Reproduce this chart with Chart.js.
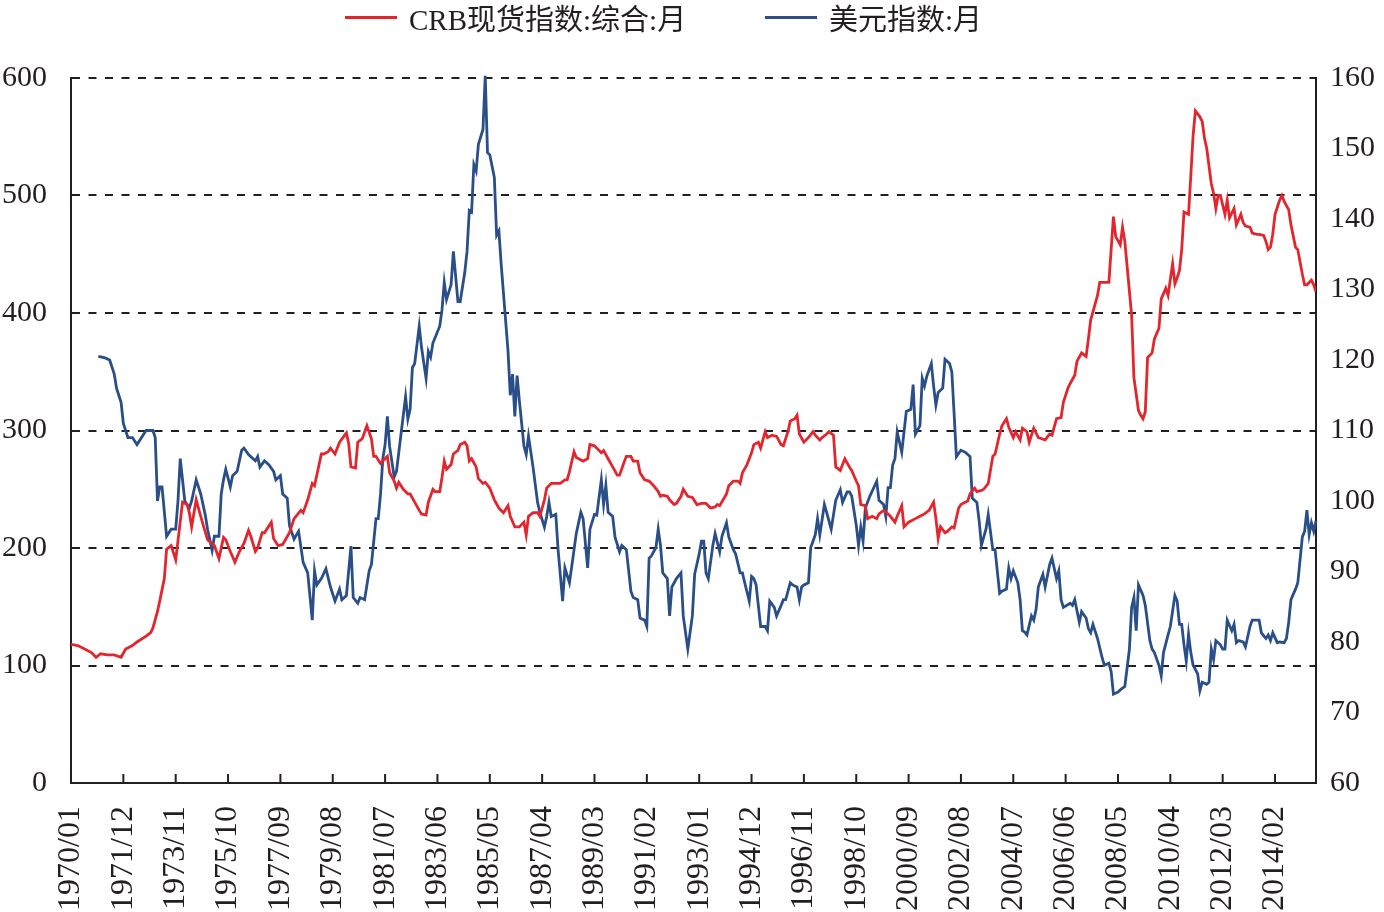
<!DOCTYPE html>
<html>
<head>
<meta charset="utf-8">
<script src="https://cdn.jsdelivr.net/npm/chart.js@4.4.1/dist/chart.umd.min.js"></script>
<style>
  html, body { margin: 0; padding: 0; background: #fff; }
  #wrap { position: relative; width: 1384px; height: 912px; overflow: hidden; }
  #legend { position: absolute; left: 0; top: 0; width: 1384px; height: 34px;
            font: 29px 'Liberation Serif', 'Noto Sans CJK SC', serif; color: #231f20; }
  #legend .item { position: absolute; top: 0; height: 34px; display: flex; align-items: center; white-space: nowrap; }
  #legend .swatch { width: 52px; height: 3px; margin-right: 12px; }
</style>
</head>
<body>
<div id="wrap">
  <div id="legend"></div>
  <canvas id="chart" width="1384" height="912"></canvas>
</div>
<script>
// x axis: months counted from 1970/01, a label every 23 months
const monthsPerTick = 23;
const lastMonth = 547;
const xTickLabels = ['1970/01', '1971/12', '1973/11', '1975/10', '1977/09', '1979/08', '1981/07', '1983/06',
    '1985/05', '1987/04', '1989/03', '1991/02', '1993/01', '1994/12', '1996/11', '1998/10',
    '2000/09', '2002/08', '2004/07', '2006/06', '2008/05', '2010/04', '2012/03', '2014/02'];

const seriesNames = ['CRB现货指数:综合:月', '美元指数:月'];

// CRB spot index (left axis)
const crbMonth = [
    0, 3, 6, 9, 11, 13, 16, 19, 22, 24,
    27, 29, 33, 35, 36, 38, 39, 41, 42, 44,
    46, 47, 49, 51, 52, 53, 55, 56, 58, 60,
    63, 65, 67, 68, 70, 72, 74, 76, 78, 79,
    81, 82, 84, 85, 88, 89, 91, 93, 96, 98,
    101, 102, 104, 106, 107, 110, 111, 113, 114, 116,
    118, 121, 122, 123, 125, 126, 128, 130, 132, 133,
    134, 136, 137, 139, 140, 142, 143, 144, 146, 148,
    149, 151, 153, 154, 156, 157, 159, 160, 162, 163,
    164, 165, 167, 168, 170, 171, 173, 174, 175, 176,
    178, 179, 181, 182, 184, 186, 188, 190, 192, 193,
    195, 197, 199, 200, 201, 203, 205, 206, 208, 209,
    211, 213, 215, 217, 218, 219, 221, 222, 225, 227,
    228, 230, 231, 233, 234, 236, 238, 240, 241, 243,
    244, 246, 247, 249, 250, 252, 254, 256, 258, 259,
    260, 262, 263, 265, 266, 268, 269, 271, 273, 275,
    277, 279, 280, 281, 283, 284, 285, 288, 289, 291,
    293, 294, 295, 297, 299, 300, 302, 303, 304, 305,
    306, 308, 310, 312, 313, 315, 316, 318, 319, 320,
    322, 324, 326, 327, 329, 330, 332, 333, 335, 336,
    338, 339, 340, 342, 343, 345, 346, 347, 349, 350,
    352, 354, 355, 357, 359, 360, 362, 363, 365, 366,
    368, 369, 371, 373, 375, 377, 379, 380, 381, 382,
    384, 385, 387, 388, 390, 391, 392, 394, 395, 397,
    398, 400, 401, 403, 405, 406, 408, 409, 411, 412,
    414, 415, 417, 418, 420, 421, 423, 425, 428, 430,
    431, 433, 435, 436, 438, 439, 441, 442, 444, 446,
    447, 448, 450, 451, 452, 454, 456, 458, 459, 461,
    462, 463, 464, 466, 467, 469, 470, 471, 472, 473,
    475, 476, 478, 479, 481, 482, 484, 485, 486, 487,
    488, 489, 491, 492, 493, 494, 496, 497, 498, 499,
    501, 502, 503, 504, 505, 507, 508, 509, 511, 512,
    514, 515, 516, 518, 519, 521, 522, 524, 525, 526,
    527, 528, 529, 531, 532, 533, 535, 536, 538, 539,
    541, 542, 543, 545, 546, 547];
const crbValue = [
    118, 117, 114, 111, 107, 110, 109, 109, 107, 114,
    117, 120, 125, 128, 132, 146, 155, 174, 199, 202,
    190, 206, 239, 237, 230, 218, 241, 234, 220, 207,
    202, 191, 209, 207, 197, 188, 197, 204, 215, 210,
    197, 200, 213, 213, 222, 208, 202, 203, 213, 225,
    232, 230, 241, 255, 253, 280, 280, 282, 285, 280,
    290, 298, 289, 269, 268, 290, 293, 304, 293, 278,
    278, 272, 274, 278, 264, 257, 251, 256, 250, 246,
    246, 239, 232, 229, 228, 239, 250, 248, 248, 260,
    274, 267, 271, 280, 283, 288, 290, 287, 274, 276,
    269, 259, 255, 256, 251, 241, 234, 230, 236, 227,
    218, 218, 222, 211, 227, 230, 230, 227, 241, 251,
    255, 255, 255, 258, 258, 265, 282, 277, 274, 276,
    288, 287, 285, 281, 283, 276, 269, 262, 262, 273,
    278, 278, 274, 274, 264, 258, 257, 253, 248, 244,
    245, 244, 241, 237, 238, 244, 250, 244, 243, 237,
    238, 238, 236, 234, 235, 237, 236, 246, 253, 257,
    257, 255, 264, 271, 281, 288, 290, 285, 292, 299,
    294, 296, 295, 288, 287, 299, 308, 310, 313, 297,
    290, 294, 299, 296, 292, 294, 297, 299, 296, 269,
    266, 271, 276, 269, 266, 257, 253, 237, 236, 225,
    227, 225, 229, 232, 229, 227, 222, 227, 236, 218,
    222, 223, 225, 227, 229, 232, 239, 225, 208, 218,
    213, 214, 218, 217, 234, 237, 238, 240, 246, 251,
    248, 249, 250, 255, 278, 280, 297, 304, 310, 303,
    294, 299, 292, 302, 299, 290, 302, 294, 292, 297,
    296, 310, 311, 324, 336, 340, 347, 359, 366, 363,
    378, 394, 408, 415, 426, 426, 426, 482, 465, 458,
    473, 461, 440, 398, 345, 317, 313, 310, 316, 362,
    366, 378, 387, 412, 421, 415, 442, 425, 430, 436,
    454, 486, 484, 517, 551, 572, 567, 563, 549, 540,
    510, 502, 489, 500, 500, 484, 496, 481, 489, 475,
    484, 477, 474, 473, 468, 467, 467, 466, 461, 454,
    456, 467, 484, 496, 500, 495, 488, 475, 456, 454,
    433, 424, 424, 428, 424, 418];

// US dollar index (right axis)
const usdMonth = [
    12, 15, 17, 19, 20, 21, 22, 23, 25, 27,
    29, 31, 33, 36, 37, 38, 39, 40, 42, 44,
    46, 47, 48, 50, 52, 53, 55, 57, 59, 60,
    62, 63, 65, 66, 67, 68, 70, 71, 73, 75,
    76, 78, 81, 82, 83, 85, 87, 89, 90, 92,
    93, 95, 96, 98, 100, 102, 104, 106, 107, 108,
    110, 112, 114, 116, 118, 119, 121, 123, 124, 126,
    127, 129, 131, 132, 134, 135, 136, 137, 138, 139,
    140, 142, 143, 145, 147, 148, 149, 150, 151, 153,
    154, 156, 157, 158, 159, 162, 163, 164, 165, 167,
    168, 170, 171, 173, 174, 175, 176, 177, 178, 179,
    181, 182, 183, 184, 186, 187, 188, 189, 191, 192,
    193, 194, 195, 196, 197, 199, 200, 201, 203, 205,
    206, 208, 209, 210, 211, 213, 214, 216, 217, 219,
    220, 222, 223, 224, 225, 227, 228, 230, 231, 233,
    234, 235, 236, 238, 239, 241, 242, 244, 246, 247,
    249, 250, 252, 253, 254, 255, 257, 258, 259, 260,
    262, 263, 264, 266, 268, 269, 271, 273, 274, 276,
    277, 278, 279, 280, 282, 283, 285, 286, 288, 289,
    291, 292, 294, 295, 296, 298, 299, 300, 301, 303,
    305, 306, 307, 309, 310, 312, 313, 314, 316, 317,
    319, 320, 321, 322, 324, 325, 326, 327, 328, 329,
    331, 332, 334, 336, 338, 339, 341, 342, 343, 345,
    346, 347, 348, 349, 351, 354, 355, 357, 358, 359,
    360, 361, 362, 363, 365, 366, 367, 369, 370, 371,
    373, 374, 375, 376, 378, 379, 380, 381, 383, 384,
    386, 387, 388, 389, 391, 393, 395, 396, 398, 399,
    400, 402, 403, 405, 406, 408, 409, 411, 412, 413,
    414, 416, 417, 418, 419, 420, 422, 423, 424, 425,
    427, 428, 430, 431, 433, 434, 435, 436, 439, 440,
    441, 443, 444, 446, 447, 448, 449, 451, 453, 454,
    456, 457, 458, 460, 461, 463, 465, 466, 467, 468,
    469, 471, 472, 474, 475, 476, 478, 479, 480, 482,
    483, 485, 486, 487, 488, 489, 490, 491, 492, 493,
    495, 496, 497, 499, 500, 501, 502, 503, 505, 506,
    507, 508, 510, 511, 512, 513, 515, 516, 518, 519,
    521, 522, 523, 525, 526, 527, 528, 530, 531, 533,
    534, 535, 536, 538, 539, 541, 542, 543, 544, 545,
    546, 547];
const usdValue = [
    120.5, 120.3, 120, 118, 116, 115, 114, 111, 109, 109,
    108, 109, 110, 110, 109, 100, 102, 102, 95, 96,
    96, 100, 106, 100, 99, 100, 103, 101, 98, 96,
    93, 95, 95, 101, 103, 104.5, 102, 103.6, 104.2, 107.2,
    107.5, 106.6, 105.7, 106.3, 104.8, 105.7, 105.1, 104.2, 103, 103.6,
    101, 100.4, 96.5, 94.6, 95.7, 91.3, 89.8, 83.1, 90.1, 88.1,
    89, 90.4, 87.8, 85.8, 87.5, 86, 86.6, 93.6, 86.3, 85.5,
    86.3, 86, 90.1, 91, 97.5, 97.5, 101, 106, 108, 112,
    107.7, 103.4, 104.2, 109.5, 114.8, 111.6, 113, 118.9, 119.5, 124.8,
    121.8, 117.4, 121.2, 120.4, 122.4, 124.8, 127.1, 131, 128.6, 130.7,
    135.4, 128.3, 128.3, 132.4, 135.4, 141.2, 141, 147.7, 146.8, 150.6,
    152.7, 160.3, 149.4, 149.1, 145.9, 137.7, 138.3, 133.6, 125.4, 121.3,
    115, 118, 112, 117.8, 114.2, 107.8, 106.6, 109.2, 104.8, 99.8,
    98.4, 96.3, 97.8, 99.8, 97.8, 98.1, 93.1, 85.8, 90.5, 88.4,
    90.7, 95.4, 96.9, 98.4, 97.5, 90.5, 96, 98.1, 98, 103,
    99.5, 102.2, 98.4, 97.8, 94.9, 92.8, 93.7, 93.1, 87.2, 86.3,
    86, 83.4, 83.1, 82.2, 91.9, 92.2, 93.4, 96, 93.7, 89.8,
    89, 83.7, 87.8, 89, 89.8, 83.7, 79, 83.7, 89.6, 92.5,
    94.3, 94.3, 89.8, 89, 93.7, 95.4, 92.8, 95, 96.9, 94.9,
    93.1, 92.5, 89.8, 89.8, 88.4, 85.8, 89.3, 89, 88.1, 82.2,
    82.2, 81.6, 85.8, 84.9, 83.7, 85.2, 86, 86, 88.4, 88.1,
    87.8, 86, 87.8, 88.1, 88.4, 93.4, 94.3, 95.2, 97.5, 95.2,
    99.5, 98.4, 96, 100.1, 101.6, 99.8, 101.3, 101.3, 100.7, 96.6,
    93.7, 96.3, 94.3, 99, 100.7, 102.8, 100.1, 99.5, 97.8, 101.9,
    101.9, 105.1, 106, 109.8, 106.9, 109.8, 112.7, 113, 116.5, 109.5,
    110.7, 117.4, 116.3, 117.7, 119.5, 116.3, 113.6, 115.4, 116, 120.1,
    119.5, 118.3, 112.4, 106.3, 107.2, 106.9, 106.3, 100.4, 99.8, 97.2,
    93.7, 96, 98.1, 93.1, 93.1, 86.9, 87.2, 87.5, 90.5, 89,
    90.1, 88.4, 86, 81.6, 81.4, 81, 83.7, 83.1, 84.6, 87.8,
    89.6, 87.8, 91, 91.9, 89, 90.1, 86, 84.9, 85.5, 85.2,
    86, 82.8, 84.3, 83.4, 81.9, 81.3, 82.5, 80.5, 77.8, 76.7,
    77, 75.8, 72.6, 72.9, 73.2, 73.7, 78.9, 84.9, 86.3, 81.6,
    88.1, 86.6, 85.2, 80.2, 79, 78.5, 76.7, 75.2, 78.5, 81,
    82.2, 86.6, 85.8, 82.5, 82.5, 79.6, 77.3, 81.1, 78.5, 76.7,
    75.5, 73.1, 74.3, 74, 74.3, 79, 77.5, 80.2, 79.6, 79,
    79, 83.1, 81.6, 82.5, 79.9, 80.2, 80, 79.3, 82.2, 83.1,
    83.1, 83.1, 81.3, 80.5, 81, 80.2, 81.3, 79.9, 80, 79.9,
    80.5, 82.8, 86, 87.5, 88.4, 94.9, 95.7, 98.7, 95.2, 96.9,
    95.7, 97.2];

const red = '#e3262d';
const blue = '#2a4f88';
const ink = '#231f20';
const serif = "'Liberation Serif', 'Times New Roman', serif";

function toPoints(months, values) {
    return months.map((m, i) => ({ x: m, y: values[i] }));
}

// tick marks on the x axis point up into the plot
const innerTicks = {
    id: 'innerTicks',
    afterDatasetsDraw(chart) {
        const xs = chart.scales.x;
        const ctx = chart.ctx;
        const bottom = chart.chartArea.bottom;
        ctx.save();
        ctx.strokeStyle = ink;
        ctx.lineWidth = 2;
        xs.ticks.forEach(t => {
            const px = xs.getPixelForValue(t.value);
            ctx.beginPath();
            ctx.moveTo(px, bottom);
            ctx.lineTo(px, bottom - 9);
            ctx.stroke();
        });
        ctx.restore();
    }
};

// html legend built from the datasets
const htmlLegend = {
    id: 'htmlLegend',
    afterUpdate(chart) {
        const box = document.getElementById('legend');
        box.innerHTML = '';
        const lefts = [345, 765];
        chart.data.datasets.forEach((ds, i) => {
            const item = document.createElement('div');
            item.className = 'item';
            item.style.left = lefts[i] + 'px';
            const sw = document.createElement('span');
            sw.className = 'swatch';
            sw.style.background = ds.borderColor;
            const txt = document.createElement('span');
            txt.textContent = ds.label;
            item.appendChild(sw);
            item.appendChild(txt);
            box.appendChild(item);
        });
    }
};

new Chart(document.getElementById('chart'), {
    type: 'line',
    data: {
        datasets: [{
            label: seriesNames[0],
            data: toPoints(crbMonth, crbValue),
            borderColor: red,
            backgroundColor: red,
            borderWidth: 2.8,
            pointRadius: 0,
            tension: 0,
            yAxisID: 'y'
        }, {
            label: seriesNames[1],
            data: toPoints(usdMonth, usdValue),
            borderColor: blue,
            backgroundColor: blue,
            borderWidth: 2.8,
            pointRadius: 0,
            tension: 0,
            clip: false,
            yAxisID: 'y1'
        }]
    },
    options: {
        responsive: false,
        animation: false,
        devicePixelRatio: 1,
        layout: { padding: { top: 78, left: 0, right: 0, bottom: 0 } },
        plugins: {
            legend: { display: false },
            tooltip: { enabled: false }
        },
        scales: {
            x: {
                type: 'linear',
                min: 0,
                max: lastMonth,
                afterBuildTicks(scale) {
                    scale.ticks = xTickLabels.map((_, i) => ({ value: i * monthsPerTick }));
                },
                afterFit(scale) { scale.height = 129; },
                grid: { display: false, drawTicks: false },
                border: { display: true, color: ink, width: 2 },
                ticks: {
                    autoSkip: false,
                    minRotation: 90,
                    maxRotation: 90,
                    padding: 23,
                    color: ink,
                    font: { family: serif, size: 32 },
                    callback: (value, index) => xTickLabels[index]
                }
            },
            y: {
                position: 'left',
                min: 0,
                max: 600,
                afterFit(scale) { scale.width = 71; },
                grid: { color: ink, lineWidth: 2, drawTicks: false },
                border: { display: true, color: ink, width: 2, dash: [8, 8.5] },
                ticks: {
                    stepSize: 100,
                    padding: 24,
                    color: ink,
                    font: { family: serif, size: 30 }
                }
            },
            y1: {
                position: 'right',
                min: 60,
                max: 160,
                afterFit(scale) { scale.width = 68; },
                grid: { display: false, drawTicks: false },
                border: { display: true, color: ink, width: 2 },
                ticks: {
                    stepSize: 10,
                    padding: 14,
                    color: ink,
                    font: { family: serif, size: 30 }
                }
            }
        }
    },
    plugins: [innerTicks, htmlLegend]
});
</script>
</body>
</html>
